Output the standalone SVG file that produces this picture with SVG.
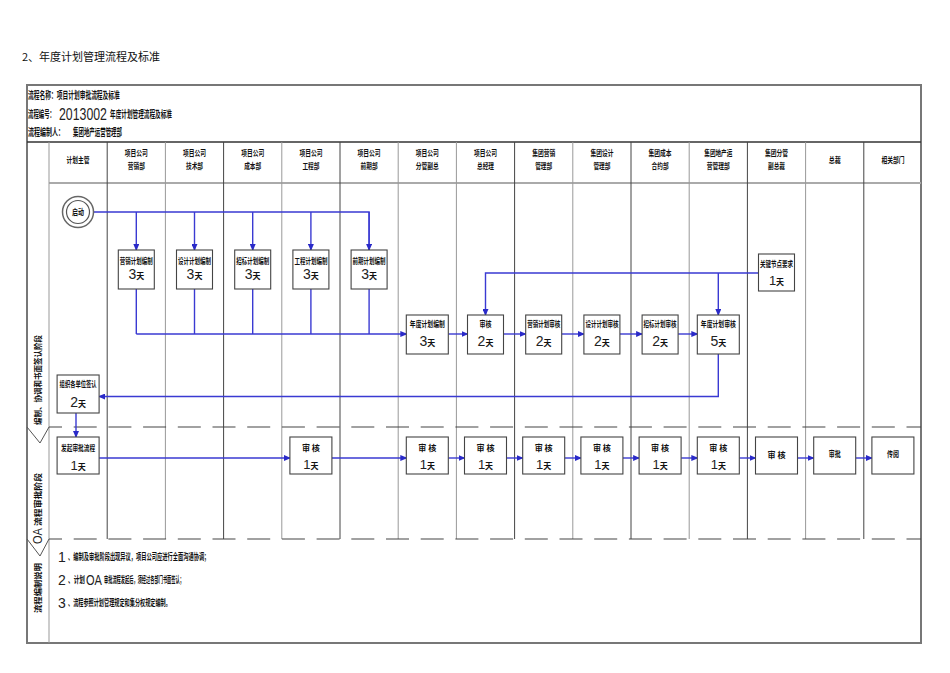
<svg xmlns="http://www.w3.org/2000/svg" width="950" height="673" viewBox="0 0 950 673">
<style>
.cj{font-family:"Noto Sans CJK SC","Noto Sans",sans-serif;font-weight:700;fill:#111;}
.ti{font-family:"Noto Sans CJK SC","Noto Sans",sans-serif;font-weight:400;fill:#111;font-size:11px;}
.num{font-family:"Liberation Sans",Arial,sans-serif;font-weight:400;fill:#222;}
.hd{font-size:8px;text-anchor:middle;}
.lb{font-size:8px;text-anchor:middle;}
.box{fill:#fff;stroke:#444;stroke-width:1.1;}
.frame{fill:none;stroke:#777;stroke-width:2;}
.dk{stroke:#444;stroke-width:1;}
.gr{stroke:#999;stroke-width:1;}
.dash{stroke:#444;stroke-width:1.1;stroke-dasharray:23 11.7;stroke-dashoffset:10;fill:none;}
.cn{fill:none;stroke:#3a3ad2;stroke-width:1.4;}
.cna{fill:none;stroke:#3a3ad2;stroke-width:1.4;marker-end:url(#ah);}
.chev{fill:none;stroke:#555;stroke-width:1;}
</style>
<defs>
<marker id="ah" markerUnits="userSpaceOnUse" markerWidth="7" markerHeight="6" refX="6" refY="3" orient="auto">
<path d="M0,0 L7,3 L0,6 z" fill="#2a2ac8"/>
</marker>
</defs>
<rect width="950" height="673" fill="#fff"/>

<text class="ti" x="22" y="61">2、年度计划管理流程及标准</text>

<g id="frame">
<rect class="frame" x="27" y="85" width="894" height="558"/>
<line x1="27" y1="142" x2="921" y2="142" stroke="#333" stroke-width="1.3"/>
<line x1="49" y1="183" x2="921" y2="183" stroke="#aaa" stroke-width="2"/>
<line class="gr" x1="49" y1="142" x2="49" y2="643"/>
<line class="dk" x1="107.2" y1="142" x2="107.2" y2="539"/>
<line class="gr" x1="165.4" y1="142" x2="165.4" y2="539"/>
<line class="dk" x1="223.6" y1="142" x2="223.6" y2="539"/>
<line class="gr" x1="281.8" y1="142" x2="281.8" y2="539"/>
<line class="dk" x1="340" y1="142" x2="340" y2="539" stroke-width="1.4"/>
<line class="gr" x1="398.2" y1="142" x2="398.2" y2="539"/>
<line class="gr" x1="456.4" y1="142" x2="456.4" y2="539"/>
<line class="dk" x1="514.6" y1="142" x2="514.6" y2="539"/>
<line class="gr" x1="572.8" y1="142" x2="572.8" y2="539"/>
<line class="dk" x1="631" y1="142" x2="631" y2="539"/>
<line class="gr" x1="689.2" y1="142" x2="689.2" y2="539"/>
<line class="dk" x1="747.4" y1="142" x2="747.4" y2="539"/>
<line class="gr" x1="805.6" y1="142" x2="805.6" y2="539"/>
<line class="dk" x1="863.8" y1="142" x2="863.8" y2="539"/>
<line class="dash" x1="49" y1="427" x2="921" y2="427"/>
<line class="dash" x1="49" y1="539" x2="921" y2="539"/>
<path class="chev" d="M27,427 L40,443 L49,427"/>
<path class="chev" d="M27,539 L40,556 L49,539"/>
</g>

<g id="header">
<text class="cj" font-size="10" transform="translate(28,99) scale(0.575,1)">流程名称：项目计划审批流程及标准</text>
<text class="cj" font-size="10" transform="translate(28,118) scale(0.54,1)">流程编号：</text>
<text class="num" font-size="16" transform="translate(59,120) scale(0.77,1)">2013002</text>
<text class="cj" font-size="10" transform="translate(110,118) scale(0.564,1)">年度计划管理流程及标准</text>
<text class="cj" font-size="10" transform="translate(28,136) scale(0.6,1)">流程编制人：</text>
<text class="cj" font-size="10" transform="translate(73,136) scale(0.545,1)">集团地产运营管理部</text>
</g>

<g id="colheads">
<text class="cj hd" x="78.1" y="163" textLength="23" lengthAdjust="spacingAndGlyphs">计划主管</text>
<text class="cj hd" x="136.3" y="156" textLength="23" lengthAdjust="spacingAndGlyphs">项目公司</text>
<text class="cj hd" x="136.3" y="169" textLength="17" lengthAdjust="spacingAndGlyphs">营销部</text>
<text class="cj hd" x="194.5" y="156" textLength="23" lengthAdjust="spacingAndGlyphs">项目公司</text>
<text class="cj hd" x="194.5" y="169" textLength="17" lengthAdjust="spacingAndGlyphs">技术部</text>
<text class="cj hd" x="252.7" y="156" textLength="23" lengthAdjust="spacingAndGlyphs">项目公司</text>
<text class="cj hd" x="252.7" y="169" textLength="17" lengthAdjust="spacingAndGlyphs">成本部</text>
<text class="cj hd" x="310.9" y="156" textLength="23" lengthAdjust="spacingAndGlyphs">项目公司</text>
<text class="cj hd" x="310.9" y="169" textLength="17" lengthAdjust="spacingAndGlyphs">工程部</text>
<text class="cj hd" x="369.1" y="156" textLength="23" lengthAdjust="spacingAndGlyphs">项目公司</text>
<text class="cj hd" x="369.1" y="169" textLength="17" lengthAdjust="spacingAndGlyphs">前期部</text>
<text class="cj hd" x="427.3" y="156" textLength="23" lengthAdjust="spacingAndGlyphs">项目公司</text>
<text class="cj hd" x="427.3" y="169" textLength="23" lengthAdjust="spacingAndGlyphs">分管副总</text>
<text class="cj hd" x="485.5" y="156" textLength="23" lengthAdjust="spacingAndGlyphs">项目公司</text>
<text class="cj hd" x="485.5" y="169" textLength="17" lengthAdjust="spacingAndGlyphs">总经理</text>
<text class="cj hd" x="543.7" y="156" textLength="23" lengthAdjust="spacingAndGlyphs">集团营销</text>
<text class="cj hd" x="543.7" y="169" textLength="17" lengthAdjust="spacingAndGlyphs">管理部</text>
<text class="cj hd" x="601.9" y="156" textLength="23" lengthAdjust="spacingAndGlyphs">集团设计</text>
<text class="cj hd" x="601.9" y="169" textLength="17" lengthAdjust="spacingAndGlyphs">管理部</text>
<text class="cj hd" x="660.1" y="156" textLength="23" lengthAdjust="spacingAndGlyphs">集团成本</text>
<text class="cj hd" x="660.1" y="169" textLength="17" lengthAdjust="spacingAndGlyphs">合约部</text>
<text class="cj hd" x="718.3" y="156" textLength="28" lengthAdjust="spacingAndGlyphs">集团地产运</text>
<text class="cj hd" x="718.3" y="169" textLength="23" lengthAdjust="spacingAndGlyphs">营管理部</text>
<text class="cj hd" x="776.5" y="156" textLength="23" lengthAdjust="spacingAndGlyphs">集团分管</text>
<text class="cj hd" x="776.5" y="169" textLength="17" lengthAdjust="spacingAndGlyphs">副总裁</text>
<text class="cj hd" x="834.7" y="163" textLength="12" lengthAdjust="spacingAndGlyphs">总裁</text>
<text class="cj hd" x="892.9" y="163" textLength="23" lengthAdjust="spacingAndGlyphs">相关部门</text>
</g>

<g id="lanelabels">
<text class="cj" font-size="8" transform="translate(41,425) rotate(-90)" textLength="90" lengthAdjust="spacingAndGlyphs">编制、协调和书面签认阶段</text>
<text class="num" font-size="12" transform="translate(42,544) rotate(-90)" textLength="16" lengthAdjust="spacingAndGlyphs">OA</text>
<text class="cj" font-size="8" transform="translate(41,526) rotate(-90)" textLength="53" lengthAdjust="spacingAndGlyphs">流程审批阶段</text>
<text class="cj" font-size="8" transform="translate(41,613) rotate(-90)" textLength="50" lengthAdjust="spacingAndGlyphs">流程编制说明</text>
</g>

<g id="connectors">
<path class="cn" d="M93,212 H369.1 V250"/>
<path class="cna" d="M369.1,212 V250"/>
<path class="cna" d="M136.3,212 V250"/>
<path class="cna" d="M194.5,212 V250"/>
<path class="cna" d="M252.7,212 V250"/>
<path class="cna" d="M310.9,212 V250"/>
<path class="cn" d="M136.3,289 V334"/>
<path class="cn" d="M194.5,289 V334"/>
<path class="cn" d="M252.7,289 V334"/>
<path class="cn" d="M310.9,289 V334"/>
<path class="cn" d="M369.1,289 V334"/>
<path class="cna" d="M136.3,334 H406.3"/>
<path class="cna" d="M448.3,334 H467.5"/>
<path class="cna" d="M503.5,334 H525.7"/>
<path class="cna" d="M561.7,334 H583.9"/>
<path class="cna" d="M619.9,334 H642.1"/>
<path class="cna" d="M678.1,334 H697.3"/>
<path class="cna" d="M758.5,273 H485.5 V315"/>
<path class="cna" d="M718.3,273 V315"/>
<path class="cna" d="M718.3,354 V396.5 H99.1"/>
<path class="cna" d="M76,413 V437"/>
<path class="cna" d="M99.1,458 H289.9"/>
<path class="cna" d="M331.9,458 H406.3"/>
<path class="cna" d="M448.3,458 H464.5"/>
<path class="cna" d="M506.5,458 H522.7"/>
<path class="cna" d="M564.7,458 H580.9"/>
<path class="cna" d="M622.9,458 H639.1"/>
<path class="cna" d="M681.1,458 H697.3"/>
<path class="cna" d="M739.3,458 H755.5"/>
<path class="cna" d="M797.5,458 H813.7"/>
<path class="cna" d="M855.7,458 H871.9"/>
</g>

<g id="start">
<circle cx="78" cy="212" r="15.5" fill="#fff" stroke="#666" stroke-width="1.5"/>
<circle cx="78" cy="212" r="11.5" fill="#fff" stroke="#555" stroke-width="1.2"/>
<text class="cj lb" x="78" y="215" textLength="12" lengthAdjust="spacingAndGlyphs">启动</text>
</g>

<g id="n-yx">
<rect class="box" x="118.3" y="250" width="36" height="39"/>
<text class="cj lb" x="136.3" y="264" textLength="33" lengthAdjust="spacingAndGlyphs">营销计划编制</text>
<text x="136.3" y="279" text-anchor="middle"><tspan class="num" font-size="14">3</tspan><tspan class="cj" font-size="8">天</tspan></text>
</g>
<g id="n-sj">
<rect class="box" x="176.5" y="250" width="36" height="39"/>
<text class="cj lb" x="194.5" y="264" textLength="33" lengthAdjust="spacingAndGlyphs">设计计划编制</text>
<text x="194.5" y="279" text-anchor="middle"><tspan class="num" font-size="14">3</tspan><tspan class="cj" font-size="8">天</tspan></text>
</g>
<g id="n-zb">
<rect class="box" x="234.7" y="250" width="36" height="39"/>
<text class="cj lb" x="252.7" y="264" textLength="33" lengthAdjust="spacingAndGlyphs">招标计划编制</text>
<text x="252.7" y="279" text-anchor="middle"><tspan class="num" font-size="14">3</tspan><tspan class="cj" font-size="8">天</tspan></text>
</g>
<g id="n-gc">
<rect class="box" x="292.9" y="250" width="36" height="39"/>
<text class="cj lb" x="310.9" y="264" textLength="33" lengthAdjust="spacingAndGlyphs">工程计划编制</text>
<text x="310.9" y="279" text-anchor="middle"><tspan class="num" font-size="14">3</tspan><tspan class="cj" font-size="8">天</tspan></text>
</g>
<g id="n-qq">
<rect class="box" x="351.1" y="250" width="36" height="39"/>
<text class="cj lb" x="369.1" y="264" textLength="33" lengthAdjust="spacingAndGlyphs">前期计划编制</text>
<text x="369.1" y="279" text-anchor="middle"><tspan class="num" font-size="14">3</tspan><tspan class="cj" font-size="8">天</tspan></text>
</g>

<g id="n-ndbz">
<rect class="box" x="406.3" y="315" width="42" height="39"/>
<text class="cj lb" x="427.3" y="327" textLength="35" lengthAdjust="spacingAndGlyphs">年度计划编制</text>
<text x="427.3" y="346" text-anchor="middle"><tspan class="num" font-size="14">3</tspan><tspan class="cj" font-size="8">天</tspan></text>
</g>
<g id="n-sh1">
<rect class="box" x="467.5" y="315" width="36" height="39"/>
<text class="cj lb" x="485.5" y="327" textLength="12" lengthAdjust="spacingAndGlyphs">审核</text>
<text x="485.5" y="346" text-anchor="middle"><tspan class="num" font-size="14">2</tspan><tspan class="cj" font-size="8">天</tspan></text>
</g>
<g id="n-yxsh">
<rect class="box" x="525.7" y="315" width="36" height="39"/>
<text class="cj lb" x="543.7" y="327" textLength="33" lengthAdjust="spacingAndGlyphs">营销计划审核</text>
<text x="543.7" y="346" text-anchor="middle"><tspan class="num" font-size="14">2</tspan><tspan class="cj" font-size="8">天</tspan></text>
</g>
<g id="n-sjsh">
<rect class="box" x="583.9" y="315" width="36" height="39"/>
<text class="cj lb" x="601.9" y="327" textLength="33" lengthAdjust="spacingAndGlyphs">设计计划审核</text>
<text x="601.9" y="346" text-anchor="middle"><tspan class="num" font-size="14">2</tspan><tspan class="cj" font-size="8">天</tspan></text>
</g>
<g id="n-zbsh">
<rect class="box" x="642.1" y="315" width="36" height="39"/>
<text class="cj lb" x="660.1" y="327" textLength="33" lengthAdjust="spacingAndGlyphs">招标计划审核</text>
<text x="660.1" y="346" text-anchor="middle"><tspan class="num" font-size="14">2</tspan><tspan class="cj" font-size="8">天</tspan></text>
</g>
<g id="n-ndsh">
<rect class="box" x="697.3" y="315" width="42" height="39"/>
<text class="cj lb" x="718.3" y="327" textLength="35" lengthAdjust="spacingAndGlyphs">年度计划审核</text>
<text x="718.3" y="346" text-anchor="middle"><tspan class="num" font-size="14">5</tspan><tspan class="cj" font-size="8">天</tspan></text>
</g>
<g id="n-gjjd">
<rect class="box" x="758.5" y="254" width="36" height="37"/>
<text class="cj lb" x="776.5" y="267" textLength="33" lengthAdjust="spacingAndGlyphs">关键节点要求</text>
<text x="776.5" y="285" text-anchor="middle"><tspan class="num" font-size="13">1</tspan><tspan class="cj" font-size="8">天</tspan></text>
</g>
<g id="n-zzqr">
<rect class="box" x="57.1" y="375" width="42" height="38"/>
<text class="cj lb" x="78.1" y="387" textLength="37" lengthAdjust="spacingAndGlyphs">组织各单位签认</text>
<text x="78.1" y="407" text-anchor="middle"><tspan class="num" font-size="14">2</tspan><tspan class="cj" font-size="8">天</tspan></text>
</g>

<g id="n-fq">
<rect class="box" x="57.1" y="437" width="42" height="37"/>
<text class="cj lb" x="78.1" y="451" textLength="34" lengthAdjust="spacingAndGlyphs">发起审批流程</text>
<text x="78.1" y="470" text-anchor="middle"><tspan class="num" font-size="13">1</tspan><tspan class="cj" font-size="8">天</tspan></text>
</g>
<g id="n-sh-gc">
<rect class="box" x="289.9" y="437" width="42" height="37"/>
<text class="cj lb" x="310.9" y="451" textLength="18" lengthAdjust="spacingAndGlyphs">审 核</text>
<text x="310.9" y="469" text-anchor="middle"><tspan class="num" font-size="13">1</tspan><tspan class="cj" font-size="8">天</tspan></text>
</g>
<g id="n-sh-fg">
<rect class="box" x="406.3" y="437" width="42" height="37"/>
<text class="cj lb" x="427.3" y="451" textLength="18" lengthAdjust="spacingAndGlyphs">审 核</text>
<text x="427.3" y="469" text-anchor="middle"><tspan class="num" font-size="13">1</tspan><tspan class="cj" font-size="8">天</tspan></text>
</g>
<g id="n-sh-zjl">
<rect class="box" x="464.5" y="437" width="42" height="37"/>
<text class="cj lb" x="485.5" y="451" textLength="18" lengthAdjust="spacingAndGlyphs">审 核</text>
<text x="485.5" y="469" text-anchor="middle"><tspan class="num" font-size="13">1</tspan><tspan class="cj" font-size="8">天</tspan></text>
</g>
<g id="n-sh-jtyx">
<rect class="box" x="522.7" y="437" width="42" height="37"/>
<text class="cj lb" x="543.7" y="451" textLength="18" lengthAdjust="spacingAndGlyphs">审 核</text>
<text x="543.7" y="469" text-anchor="middle"><tspan class="num" font-size="13">1</tspan><tspan class="cj" font-size="8">天</tspan></text>
</g>
<g id="n-sh-jtsj">
<rect class="box" x="580.9" y="437" width="42" height="37"/>
<text class="cj lb" x="601.9" y="451" textLength="18" lengthAdjust="spacingAndGlyphs">审 核</text>
<text x="601.9" y="469" text-anchor="middle"><tspan class="num" font-size="13">1</tspan><tspan class="cj" font-size="8">天</tspan></text>
</g>
<g id="n-sh-jtcb">
<rect class="box" x="639.1" y="437" width="42" height="37"/>
<text class="cj lb" x="660.1" y="451" textLength="18" lengthAdjust="spacingAndGlyphs">审 核</text>
<text x="660.1" y="469" text-anchor="middle"><tspan class="num" font-size="13">1</tspan><tspan class="cj" font-size="8">天</tspan></text>
</g>
<g id="n-sh-yy">
<rect class="box" x="697.3" y="437" width="42" height="37"/>
<text class="cj lb" x="718.3" y="451" textLength="18" lengthAdjust="spacingAndGlyphs">审 核</text>
<text x="718.3" y="469" text-anchor="middle"><tspan class="num" font-size="13">1</tspan><tspan class="cj" font-size="8">天</tspan></text>
</g>
<g id="n-sh-fzc">
<rect class="box" x="755.5" y="437" width="42" height="37"/>
<text class="cj lb" x="776.5" y="458" textLength="18" lengthAdjust="spacingAndGlyphs">审 核</text>
</g>
<g id="n-sp">
<rect class="box" x="813.7" y="437" width="42" height="37"/>
<text class="cj lb" x="834.7" y="457" textLength="12" lengthAdjust="spacingAndGlyphs">审批</text>
</g>
<g id="n-cy">
<rect class="box" x="871.9" y="437" width="42" height="37"/>
<text class="cj lb" x="892.9" y="457" textLength="12" lengthAdjust="spacingAndGlyphs">传阅</text>
</g>

<g id="notes">
<text class="num" x="58" y="562" font-size="14">1</text>
<text class="cj" font-size="9" transform="translate(68,560) scale(0.582,1)">、编制及审批阶段出现异议，项目公司应进行全面沟通协调；</text>
<text class="num" x="58" y="585" font-size="14">2</text>
<text class="cj" font-size="9" transform="translate(68,583) scale(0.63,1)">、计划</text>
<text class="num" font-size="14" transform="translate(86,585) scale(0.79,1)">OA</text>
<text class="cj" font-size="9" transform="translate(104,583) scale(0.468,1)">审批流程发起后，须经过各部门书面签认；</text>
<text class="num" x="58" y="608" font-size="14">3</text>
<text class="cj" font-size="9" transform="translate(68,606) scale(0.572,1)">、流程参照计划管理规定和集分权规定编制。</text>
</g>
</svg>
